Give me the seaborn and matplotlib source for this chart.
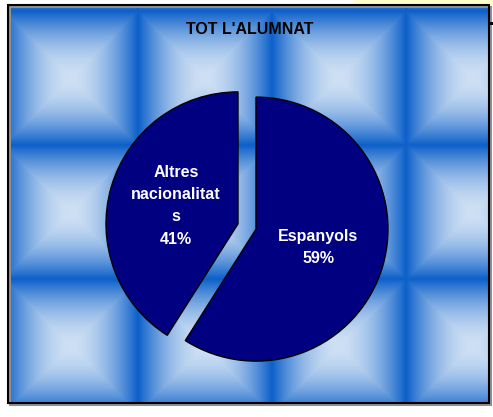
import numpy as np
import matplotlib
matplotlib.use("Agg")
import matplotlib.pyplot as plt
import matplotlib.patches as mpatches
import seaborn as sns

# Chart data
categories = ["Espanyols", "Altres\nnacionalitat\ns"]
shares = [59, 41]
title = "TOT L'ALUMNAT"

sns.set_style("white")
plt.rcParams["font.family"] = ["Liberation Sans", "DejaVu Sans"]

W, H = 493, 417
fig = plt.figure(figsize=(W / 100, H / 100), dpi=100)
fig.patch.set_facecolor("white")

# background axes in pixel units (y up)
bg = fig.add_axes([0, 0, 1, 1])
bg.set_xlim(0, W)
bg.set_ylim(0, H)
bg.axis("off")

# tiled "pyramid" texture like the old Excel fill
fx0, fx1, fy0, fy1 = 8, 489, 5, 403
tile = 134
px = np.arange(fx0, fx1) + 0.5
py = np.arange(fy0, fy1) + 0.5
PX, PY = np.meshgrid(px, py)
u = ((PX - 4) % tile) / tile
v = ((PY - 11) % tile) / tile
d = np.maximum(np.abs(u - 0.5), np.abs(v - 0.5)) * 2
t = d ** 1.8
light = np.array([206, 224, 244]) / 255
dark = np.array([12, 96, 202]) / 255
img = light + (dark - light) * t[..., None]
bg.imshow(img, extent=(fx0, fx1, H - fy1, H - fy0), origin="upper",
          interpolation="bilinear", zorder=0)
bg.set_xlim(0, W)
bg.set_ylim(0, H)

# frame with a little shadow
bg.add_patch(mpatches.Rectangle((fx0 + 2, H - fy1 - 2), fx1 - fx0, fy1 - fy0,
                                fill=False, edgecolor="#909090", lw=1.5, zorder=1))
bg.add_patch(mpatches.Rectangle((fx0, H - fy1), fx1 - fx0, fy1 - fy0,
                                fill=False, edgecolor="black", lw=1.5, zorder=2))
# bits of the neighbouring sheet
bg.add_patch(mpatches.Rectangle((354, H - 6), W - 354, 6, facecolor="#FFFFCC",
                                edgecolor="none", zorder=1))
bg.add_patch(mpatches.Rectangle((489, H - 25), 4, 3, facecolor="black",
                                edgecolor="none", zorder=3))

# pie axes: 1 unit = 132 px, centre at (247, 226.5) image px
r_px = 132
cx, cy = 247, 226.5
span = 1.25 * r_px
ax = fig.add_axes([(cx - span) / W, (H - cy - span) / H, 2 * span / W, 2 * span / H])
ax.patch.set_alpha(0)

names = iter(categories)
wedges, texts, autotexts = ax.pie(
    shares,
    colors=["#000080", "#000080"],
    startangle=90,
    counterclock=False,
    explode=[0.071, 0.071],
    autopct=lambda p: f"{next(names)}\n{p:.0f}%",
    pctdistance=0.49,
    wedgeprops=dict(edgecolor="black", linewidth=1),
    textprops=dict(color="white", fontweight="bold", fontsize=11.5),
)
for txt in autotexts:
    txt.set_linespacing(1.6)
ax.set_xlim(-1.25, 1.25)
ax.set_ylim(-1.25, 1.25)

fig.text(250 / W, 1 - 30 / H, title, ha="center", va="center",
         fontsize=11.5, fontweight="bold", color="black")

fig.savefig("out.png", dpi=100)
